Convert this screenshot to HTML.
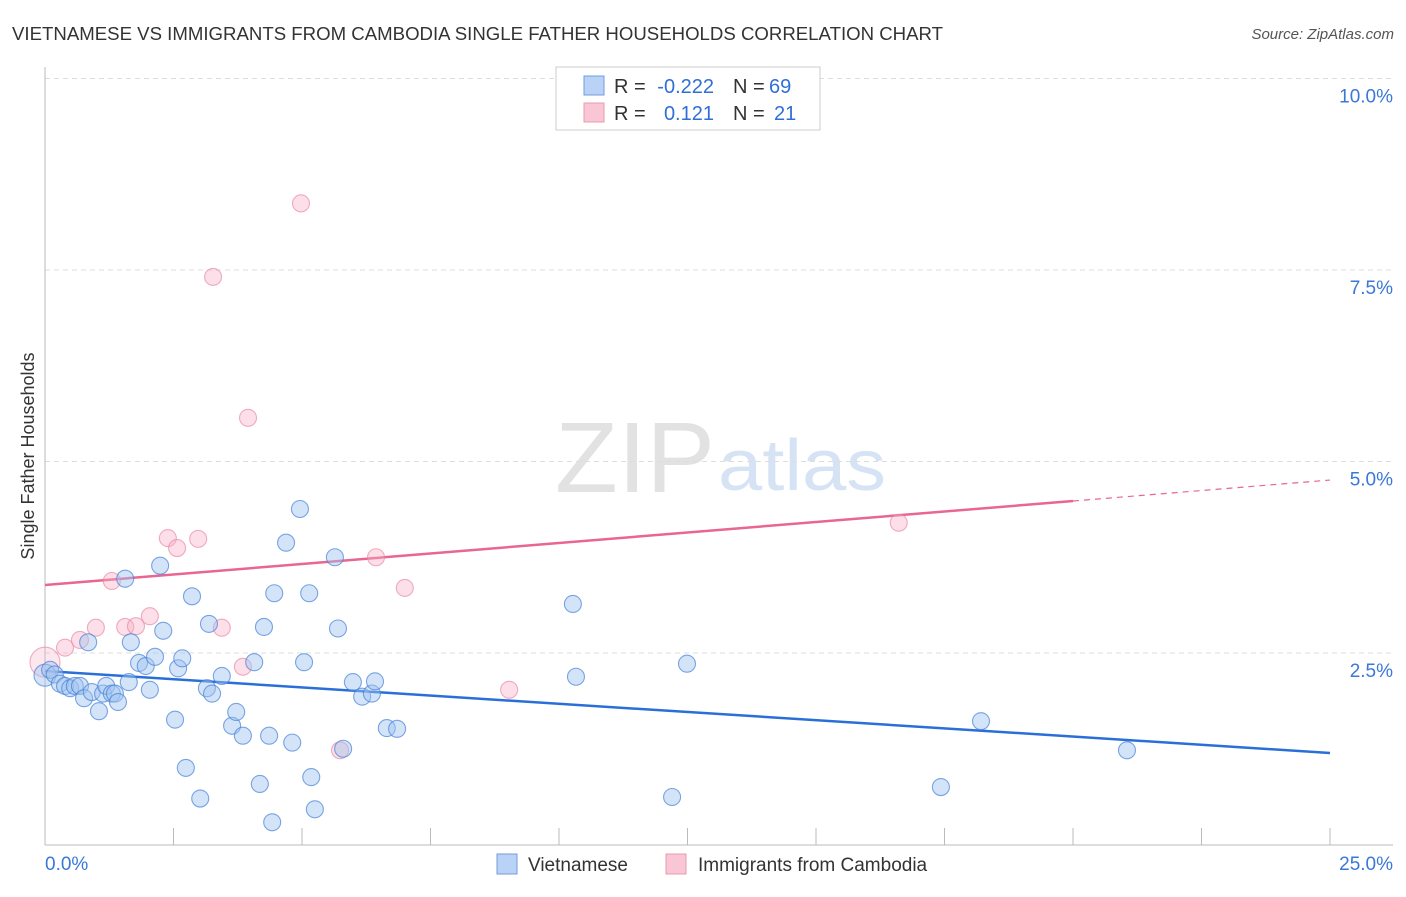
<!DOCTYPE html>
<html><head><meta charset="utf-8"><style>
body{margin:0;background:#fff;font-family:"Liberation Sans",sans-serif;}
svg text{font-family:"Liberation Sans",sans-serif;}
</style></head><body>
<svg width="1406" height="892" viewBox="0 0 1406 892">
<text x="12" y="40" font-size="18" fill="#333" textLength="931" lengthAdjust="spacingAndGlyphs">VIETNAMESE VS IMMIGRANTS FROM CAMBODIA SINGLE FATHER HOUSEHOLDS CORRELATION CHART</text>
<text x="1394" y="39" font-size="15" fill="#555" font-style="italic" text-anchor="end">Source: ZipAtlas.com</text>
<g>
<text x="555" y="492" font-size="100" font-family="Liberation Serif" fill="#e2e2e2" textLength="160" lengthAdjust="spacingAndGlyphs">ZIP</text>
<text x="718" y="490" font-size="72" fill="#d6e3f5" textLength="168" lengthAdjust="spacingAndGlyphs">atlas</text>
</g>
<g id="grid"></g>
<g id="axes"></g>
<text transform="translate(34,456) rotate(-90)" font-size="18" fill="#333" text-anchor="middle">Single Father Households</text>
<g id="lines"></g>
<g id="points"></g>
<g>
<rect x="556" y="67" width="264" height="63" fill="#fff" stroke="#ccc"/>
<rect x="584" y="76" width="20" height="19" fill="#b9d2f5" stroke="#6f9ee0"/>
<rect x="584" y="103" width="20" height="19" fill="#f9c6d5" stroke="#eb98b2"/>
<text x="614" y="93" font-size="20" fill="#333">R =</text>
<text x="714" y="93" font-size="20" fill="#2f6fd6" text-anchor="end">-0.222</text>
<text x="733" y="93" font-size="20" fill="#333">N =</text>
<text x="769" y="93" font-size="20" fill="#2f6fd6">69</text>
<text x="614" y="120" font-size="20" fill="#333">R =</text>
<text x="714" y="120" font-size="20" fill="#2f6fd6" text-anchor="end">0.121</text>
<text x="733" y="120" font-size="20" fill="#333">N =</text>
<text x="774" y="120" font-size="20" fill="#2f6fd6">21</text>
</g>
<g>
<rect x="497" y="854" width="20" height="20" fill="#b9d2f5" stroke="#6f9ee0"/>
<text x="528" y="871" font-size="19" fill="#333">Vietnamese</text>
<rect x="666" y="854" width="20" height="20" fill="#f9c6d5" stroke="#eb98b2"/>
<text x="698" y="871" font-size="19" fill="#333">Immigrants from Cambodia</text>
</g>
</svg>
<script>
const yTicks=[2.5,5,7.5,10];
const yTickLabels=["2.5%","5.0%","7.5%","10.0%"];
const xTicks=[0,2.5,5,7.5,10,12.5,15,17.5,20,22.5,25];
const xTickLabels=["0.0%","25.0%"];
const vietX=[0,0.10,0.19,0.29,0.39,0.49,0.58,0.68,0.76,0.84,0.91,1.05,1.13,1.19,1.30,1.36,1.42,1.56,1.63,1.67,1.83,1.96,2.04,2.14,2.24,2.30,2.53,2.59,2.67,2.74,2.86,3.02,3.15,3.19,3.25,3.44,3.64,3.72,3.85,4.07,4.18,4.26,4.36,4.42,4.46,4.69,4.81,4.96,5.04,5.14,5.18,5.25,5.64,5.70,5.80,5.99,6.17,6.36,6.42,6.65,6.85,10.27,10.33,12.20,12.49,17.43,18.21,21.05];
const vietY=[2.21,2.28,2.22,2.10,2.07,2.04,2.07,2.07,1.91,2.64,1.99,1.74,1.97,2.07,1.97,1.97,1.86,3.47,2.12,2.64,2.37,2.33,2.02,2.45,3.64,2.79,1.63,2.30,2.43,1.00,3.24,0.60,2.04,2.88,1.97,2.20,1.55,1.73,1.42,2.38,0.79,2.84,1.42,0.29,3.28,3.94,1.33,4.38,2.38,3.28,0.88,0.46,3.75,2.82,1.25,2.12,1.93,1.97,2.13,1.52,1.51,3.14,2.19,0.62,2.36,0.75,1.61,1.23];
const cambX=[0,0.39,0.68,0.99,1.30,1.56,1.77,2.04,2.39,2.57,2.98,3.27,3.44,3.85,3.95,4.98,5.74,6.44,7.00,9.03,16.61];
const cambY=[2.38,2.57,2.67,2.83,3.44,2.84,2.85,2.98,4.00,3.87,3.99,7.41,2.83,2.32,5.57,8.37,1.23,3.75,3.35,2.02,4.20];
const vietTrend=[2.265,1.195];
const cambTrend=[3.388,4.758];
const NS="http://www.w3.org/2000/svg";
const X0=45,X1=1330,Y0=844.5,PPU=76.6;
function sx(v){return X0+(v/25)*(X1-X0);}
function sy(v){return Y0-v*PPU;}
function mk(tag,attrs,parent){const e=document.createElementNS(NS,tag);for(const k in attrs)e.setAttribute(k,attrs[k]);parent.appendChild(e);return e;}
const grid=document.getElementById('grid'),axes=document.getElementById('axes'),lines=document.getElementById('lines'),pts=document.getElementById('points');
yTicks.forEach((t,i)=>{
 const l=mk('line',{x1:45,x2:1393,y1:sy(t),y2:sy(t),stroke:'#ddd','stroke-dasharray':'5,4'},grid);
 
 
 const tx=mk('text',{x:1393,y:sy(t)+24,'font-size':19,fill:'#3a78d8','text-anchor':'end'},grid);
 tx.textContent=yTickLabels[i];
 
 
});
const ax=mk('line',{x1:45,x2:45,y1:67,y2:845,stroke:'#bbb'},axes);


const bx=mk('line',{x1:45,x2:1393,y1:845,y2:845,stroke:'#bbb'},axes);


xTicks.forEach(t=>{
 const l=mk('line',{x1:sx(t),x2:sx(t),y1:828,y2:845,stroke:'#bbb'},axes);
 
 
});
const xl0=mk('text',{x:45,y:870,'font-size':19,fill:'#3a78d8'},axes);
xl0.textContent=xTickLabels[0];


const xl1=mk('text',{x:1393,y:870,'font-size':19,fill:'#3a78d8','text-anchor':'end'},axes);
xl1.textContent=xTickLabels[1];


function dot(x,y,r,fill,stroke,name){
 const c=mk('circle',{cx:sx(x),cy:sy(y),r:r,fill:fill,stroke:stroke,'stroke-width':1.1},pts);
 
 
}
cambX.forEach((x,i)=>dot(x,cambY[i],i===0?15:8.5,i===0?'rgba(247,176,198,0.3)':'rgba(247,176,198,0.4)','rgba(232,130,162,0.65)','cambodia-point'));
vietX.forEach((x,i)=>dot(x,vietY[i],i===0?11:8.5,'rgba(160,195,240,0.45)','rgba(70,130,215,0.7)','vietnamese-point'));
const bl=mk('line',{x1:sx(0),y1:sy(vietTrend[0]),x2:sx(25),y2:sy(vietTrend[1]),stroke:'#2a6fd8','stroke-width':2.5},lines);


const pm=cambTrend[0]+(cambTrend[1]-cambTrend[0])*0.8;
const pl=mk('line',{x1:sx(0),y1:sy(cambTrend[0]),x2:sx(20),y2:sy(pm),stroke:'#e8668f','stroke-width':2.5},lines);


const pd=mk('line',{x1:sx(20),y1:sy(pm),x2:sx(25),y2:sy(cambTrend[1]),stroke:'#e8668f','stroke-width':1.2,'stroke-dasharray':'6,5'},lines);


</script>
</body></html>
